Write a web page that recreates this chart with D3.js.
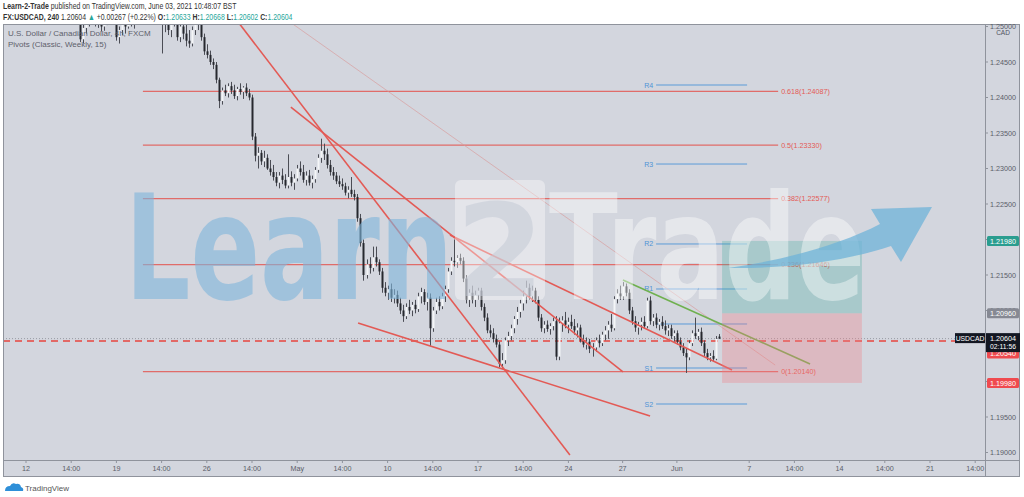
<!DOCTYPE html>
<html><head><meta charset="utf-8">
<script src="https://cdn.jsdelivr.net/npm/d3@7/dist/d3.min.js"></script>
<style>html,body{margin:0;padding:0;background:#fff;overflow:hidden}text{font-family:"Liberation Sans",Arial,sans-serif}</style>
</head><body>
<svg id="c" width="1024" height="497"></svg>
<script>
// ---------- DATA ----------
const startIndex = 18; // candle index of first entry (index 0 = Apr 12 00:00, 4h candles)
const opens = [
1.2510,1.2482,1.2498,1.2512,1.2520,1.2515,1.2508,1.2518,1.2500,1.2510,
1.2522,1.2530,1.2512,1.2485,1.2495,1.2508,1.2500,1.2518,1.2510,1.2515,
1.2528,1.2540,1.2550,1.2562,1.2555,1.2545,1.2535,1.2525,1.2508,1.2515,
1.2495,1.2510,1.2520,1.2485,1.2500,1.2490,1.2480,1.2476,1.2495,1.2508,
1.2520,1.2485,1.2465,1.2460,1.2450,1.2446,1.2425,1.2395,1.2410,1.2406,
1.2416,1.2410,1.2402,1.2412,1.2408,1.2414,1.2406,1.2400,1.2345,1.2318,
1.2322,1.2310,1.2315,1.2300,1.2295,1.2288,1.2280,1.2290,1.2284,1.2276,
1.2288,1.2280,1.2286,1.2300,1.2295,1.2284,1.2290,1.2280,1.2285,1.2298,
1.2315,1.2325,1.2320,1.2305,1.2295,1.2290,1.2282,1.2278,1.2275,1.2266,
1.2270,1.2264,1.2260,1.2230,1.2195,1.2150,1.2165,1.2160,1.2175,1.2168,
1.2155,1.2132,1.2125,1.2130,1.2118,1.2122,1.2110,1.2100,1.2092,1.2105,
1.2100,1.2108,1.2102,1.2120,1.2126,1.2112,1.2118,1.2075,1.2100,1.2112,
1.2106,1.2120,1.2130,1.2155,1.2170,1.2168,1.2174,1.2170,1.2145,1.2115,
1.2125,1.2115,1.2122,1.2128,1.2105,1.2090,1.2072,1.2068,1.2060,1.2052,
1.2025,1.2030,1.2058,1.2064,1.2075,1.2088,1.2098,1.2110,1.2120,1.2132,
1.2120,1.2128,1.2115,1.2090,1.2075,1.2080,1.2074,1.2078,1.2085,1.2035,
1.2082,1.2086,1.2080,1.2084,1.2078,1.2072,1.2076,1.2058,1.2052,1.2056,
1.2046,1.2048,1.2058,1.2054,1.2066,1.2072,1.2080,1.2075,1.2116,1.2124,
1.2120,1.2134,1.2125,1.2100,1.2085,1.2076,1.2080,1.2084,1.2078,1.2114,
1.2085,1.2090,1.2080,1.2084,1.2078,1.2072,1.2075,1.2064,1.2068,1.2056,
1.2048,1.2040,1.2034,1.2054,1.2068,1.2064,1.2070,1.2054,1.2040,1.2034,
1.2036,1.2032,1.20633];
const highs = [
1.2525,1.2505,1.2520,1.2530,1.2535,1.2530,1.2525,1.2522,1.2515,1.2528,
1.2535,1.2540,1.2520,1.2500,1.2515,1.2520,1.2525,1.2530,1.2522,1.2535,
1.2545,1.2560,1.2570,1.2575,1.2568,1.2560,1.2548,1.2530,1.2522,1.2525,
1.2515,1.2528,1.2525,1.2505,1.2512,1.2510,1.2495,1.2500,1.2515,1.2525,
1.2528,1.2490,1.2475,1.2466,1.2455,1.2450,1.2428,1.2414,1.2418,1.2420,
1.2422,1.2418,1.2415,1.2420,1.2416,1.2420,1.2412,1.2404,1.2350,1.2330,
1.2326,1.2325,1.2320,1.2312,1.2305,1.2295,1.2295,1.2300,1.2292,1.2320,
1.2296,1.2292,1.2305,1.2310,1.2305,1.2296,1.2298,1.2290,1.2302,1.2320,
1.2342,1.2335,1.2328,1.2312,1.2302,1.2295,1.2290,1.2286,1.2280,1.2275,
1.2288,1.2270,1.2264,1.2236,1.2200,1.2172,1.2175,1.2190,1.2190,1.2172,
1.2160,1.2140,1.2135,1.2138,1.2130,1.2128,1.2118,1.2108,1.2110,1.2115,
1.2112,1.2115,1.2125,1.2132,1.2130,1.2125,1.2124,1.2105,1.2118,1.2120,
1.2125,1.2135,1.2160,1.2175,1.2200,1.2178,1.2180,1.2175,1.2150,1.2130,
1.2135,1.2128,1.2132,1.2132,1.2110,1.2096,1.2080,1.2075,1.2066,1.2056,
1.2040,1.2062,1.2070,1.2080,1.2092,1.2105,1.2115,1.2128,1.2142,1.2138,
1.2135,1.2132,1.2120,1.2095,1.2085,1.2086,1.2082,1.2090,1.2092,1.2090,
1.2092,1.2098,1.2090,1.2094,1.2088,1.2082,1.2080,1.2066,1.2062,1.2060,
1.2054,1.2062,1.2066,1.2070,1.2078,1.2085,1.2095,1.2120,1.2130,1.2135,
1.2140,1.2138,1.2130,1.2105,1.2092,1.2084,1.2090,1.2092,1.2118,1.2120,
1.2095,1.2096,1.2088,1.2092,1.2086,1.2080,1.2080,1.2072,1.2072,1.2062,
1.2054,1.2046,1.2058,1.2072,1.2090,1.2074,1.2076,1.2058,1.2046,1.2040,
1.2044,1.2064,1.20668];
const lows = [
1.2478,1.2476,1.2490,1.2500,1.2505,1.2500,1.2498,1.2493,1.2494,1.2502,
1.2510,1.2505,1.2480,1.2476,1.2488,1.2490,1.2497,1.2500,1.2497,1.2505,
1.2515,1.2525,1.2538,1.2545,1.2535,1.2525,1.2515,1.2462,1.2492,1.2488,
1.2485,1.2500,1.2480,1.2478,1.2482,1.2472,1.2470,1.2472,1.2488,1.2495,
1.2480,1.2460,1.2455,1.2446,1.2440,1.2420,1.2385,1.2390,1.2402,1.2400,
1.2405,1.2398,1.2396,1.2404,1.2398,1.2402,1.2396,1.2340,1.2310,1.2300,
1.2305,1.2302,1.2298,1.2290,1.2283,1.2275,1.2272,1.2278,1.2272,1.2272,
1.2275,1.2270,1.2282,1.2290,1.2280,1.2276,1.2276,1.2272,1.2280,1.2294,
1.2308,1.2312,1.2300,1.2290,1.2284,1.2278,1.2274,1.2270,1.2262,1.2258,
1.2260,1.2255,1.2225,1.2190,1.2142,1.2145,1.2152,1.2155,1.2162,1.2150,
1.2125,1.2120,1.2115,1.2112,1.2110,1.2105,1.2095,1.2084,1.2088,1.2095,
1.2092,1.2096,1.2098,1.2110,1.2108,1.2100,1.2050,1.2070,1.2095,1.2100,
1.2102,1.2112,1.2125,1.2150,1.2162,1.2160,1.2165,1.2140,1.2110,1.2105,
1.2110,1.2105,1.2115,1.2100,1.2085,1.2068,1.2062,1.2055,1.2048,1.2020,
1.2018,1.2025,1.2050,1.2058,1.2068,1.2080,1.2090,1.2100,1.2110,1.2115,
1.2112,1.2110,1.2085,1.2070,1.2068,1.2070,1.2066,1.2072,1.2030,1.2030,
1.2070,1.2075,1.2068,1.2074,1.2066,1.2062,1.2055,1.2048,1.2045,1.2040,
1.2035,1.2042,1.2048,1.2050,1.2058,1.2060,1.2070,1.2072,1.2110,1.2115,
1.2115,1.2120,1.2095,1.2080,1.2070,1.2066,1.2072,1.2074,1.2075,1.2080,
1.2078,1.2075,1.2072,1.2074,1.2066,1.2064,1.2060,1.2056,1.2052,1.2044,
1.2036,1.2012,1.2030,1.2050,1.2060,1.2058,1.2050,1.2036,1.2030,1.2028,
1.2028,1.2030,1.20602];
const closes = [
1.2482,1.2498,1.2512,1.2520,1.2515,1.2508,1.2518,1.2500,1.2510,1.2522,
1.2530,1.2512,1.2485,1.2495,1.2508,1.2500,1.2518,1.2510,1.2515,1.2528,
1.2540,1.2550,1.2562,1.2555,1.2545,1.2535,1.2525,1.2508,1.2515,1.2495,
1.2510,1.2520,1.2485,1.2500,1.2490,1.2480,1.2476,1.2495,1.2508,1.2520,
1.2485,1.2465,1.2460,1.2450,1.2446,1.2425,1.2395,1.2410,1.2406,1.2416,
1.2410,1.2402,1.2412,1.2408,1.2414,1.2406,1.2400,1.2345,1.2318,1.2322,
1.2310,1.2315,1.2300,1.2295,1.2288,1.2280,1.2290,1.2284,1.2276,1.2288,
1.2280,1.2286,1.2300,1.2295,1.2284,1.2290,1.2280,1.2285,1.2298,1.2315,
1.2325,1.2320,1.2305,1.2295,1.2290,1.2282,1.2278,1.2275,1.2266,1.2270,
1.2264,1.2260,1.2230,1.2195,1.2150,1.2165,1.2160,1.2175,1.2168,1.2155,
1.2132,1.2125,1.2130,1.2118,1.2122,1.2110,1.2100,1.2092,1.2105,1.2100,
1.2108,1.2102,1.2120,1.2126,1.2112,1.2118,1.2075,1.2100,1.2112,1.2106,
1.2120,1.2130,1.2155,1.2170,1.2168,1.2174,1.2170,1.2145,1.2115,1.2125,
1.2115,1.2122,1.2128,1.2105,1.2090,1.2072,1.2068,1.2060,1.2052,1.2025,
1.2030,1.2058,1.2064,1.2075,1.2088,1.2098,1.2110,1.2120,1.2132,1.2120,
1.2128,1.2115,1.2090,1.2075,1.2080,1.2074,1.2078,1.2085,1.2035,1.2082,
1.2086,1.2080,1.2084,1.2078,1.2072,1.2076,1.2058,1.2052,1.2056,1.2046,
1.2048,1.2058,1.2054,1.2066,1.2072,1.2080,1.2075,1.2116,1.2124,1.2120,
1.2134,1.2125,1.2100,1.2085,1.2076,1.2080,1.2084,1.2078,1.2114,1.2085,
1.2090,1.2080,1.2084,1.2078,1.2072,1.2075,1.2064,1.2068,1.2056,1.2048,
1.2040,1.2034,1.2054,1.2068,1.2064,1.2070,1.2054,1.2040,1.2034,1.2036,
1.2032,1.2060,1.20604];

const timeTickIdx    = [0,15,30,45,60,75,90,105,120,135,150,165,180,198,216,240,255,270,285,300,315];
const timeTickLabels = ["12","14:00","19","14:00","26","14:00","May","14:00","10","14:00","17","14:00","24","27","Jun","7","14:00","14","14:00","21","14:00"];
const priceTicks = [1.25,1.245,1.24,1.235,1.23,1.225,1.22,1.215,1.21,1.205,1.20,1.195,1.19];

const fibRatios = ["0.618","0.5","0.382","0.236","0"];
const fibPrices = [1.24087,1.23330,1.22577,1.21646,1.20140];
const fibRange = [38.8, 249.6];

const pivotNames  = ["R4","R3","R2","R1","P","S1","S2"];
const pivotPrices = [1.24176,1.23063,1.21937,1.21303,1.20810,1.20190,1.19683];
const pivotRange = [209.1, 239.3];

// trend lines [ [idx, price], [idx, price] ]
const redTrendLines = [
  [[70.4,1.25063],[180.5,1.18965]],
  [[87.9,1.23866],[198.1,1.20134]],
  [[140.7,1.22063],[234.3,1.20162]],
  [[110.2,1.20824],[207.1,1.19514]]
];
const faintLine = [[87.6,1.25063],[248.6,1.20232]];
const greenLine = [[198.1,1.21430],[260.2,1.20246]];
const dashedLevel = 1.20570;
const lastPrice = 1.20604;
const position = {from:231.0, to:277.4, target:1.21980, entry:1.20960, stop:1.19980};

// ---------- CHART ----------
const svg = d3.select("#c");
const W = 1024, H = 497;
const P = {l:3, r:985, t:24, b:460, ar:1020, ab:477};
const x = d3.scaleLinear().domain([0,300]).range([26,930]);
const y = d3.scaleLinear().domain([1.225,1.245]).range([204,62]);

svg.append("rect").attr("width",W).attr("height",H).attr("fill","#ffffff");
svg.append("rect").attr("x",P.l).attr("y",P.t).attr("width",P.ar-P.l).attr("height",P.ab-P.t).attr("fill","#d3d6de");

const defs = svg.append("defs");
defs.append("clipPath").attr("id","pane").append("rect").attr("x",P.l).attr("y",P.t).attr("width",P.r-P.l).attr("height",P.b-P.t);
defs.append("clipPath").attr("id","taxis").append("rect").attr("x",P.l).attr("y",P.b).attr("width",P.r-P.l).attr("height",P.ab-P.b);
defs.append("clipPath").attr("id","paxis").append("rect").attr("x",P.r).attr("y",P.t).attr("width",P.ar-P.r).attr("height",P.b-P.t);

const g = svg.append("g").attr("clip-path","url(#pane)");
const red = "#e35a55";

// fib lines
fibPrices.forEach((p,k)=>{
  g.append("line").attr("x1",x(fibRange[0])).attr("x2",x(fibRange[1])).attr("y1",y(p)).attr("y2",y(p))
   .attr("stroke",red).attr("stroke-width",1.3).attr("opacity",0.85);
  g.append("text").attr("x",x(fibRange[1])+3).attr("y",y(p)+2.6).attr("font-size",7.2).attr("fill",red)
   .text(fibRatios[k]+"("+p.toFixed(5)+")");
});
// pivots
pivotPrices.forEach((p,k)=>{
  g.append("line").attr("x1",x(pivotRange[0])).attr("x2",x(pivotRange[1])).attr("y1",y(p)).attr("y2",y(p))
   .attr("stroke","#5b9bd8").attr("stroke-width",1);
  if(pivotNames[k]!=="P")
  g.append("text").attr("x",x(pivotRange[0])-3).attr("y",y(p)+2.5).attr("font-size",7).attr("fill","#4f93d6")
   .attr("text-anchor","end").text(pivotNames[k]);
});

// faint line
g.append("line").attr("x1",x(faintLine[0][0])).attr("y1",y(faintLine[0][1])).attr("x2",x(faintLine[1][0])).attr("y2",y(faintLine[1][1]))
 .attr("stroke","#d99a9a").attr("stroke-width",0.8).attr("opacity",0.8);

// last price dotted
g.append("line").attr("x1",P.l).attr("x2",P.r).attr("y1",y(lastPrice)).attr("y2",y(lastPrice))
 .attr("stroke","#8a8d96").attr("stroke-width",0.8).attr("stroke-dasharray","1,2");
// red dashed horizontal
g.append("line").attr("x1",P.l).attr("x2",P.r).attr("y1",y(dashedLevel)).attr("y2",y(dashedLevel))
 .attr("stroke","#e8453f").attr("stroke-width",1.6).attr("stroke-dasharray","7,5");

// candles
const cg = g.append("g");
opens.forEach((o,k)=>{
  const i = startIndex + k, c = closes[k], hi = highs[k], lo = lows[k];
  const cx = Math.round(x(i));
  const up = c >= o;
  cg.append("line").attr("x1",cx+0.5).attr("x2",cx+0.5).attr("y1",y(hi)).attr("y2",y(lo))
    .attr("stroke","#4b4d55").attr("stroke-width",1);
  const top = y(Math.max(o,c)), bot = y(Math.min(o,c));
  cg.append("rect").attr("x",cx-0.5).attr("width",2).attr("y",top).attr("height",Math.max(1,bot-top))
    .attr("fill", up ? "#f4f5f7" : "#26282e");
});

// red trend lines
redTrendLines.forEach(l=>{
  g.append("line").attr("x1",x(l[0][0])).attr("y1",y(l[0][1])).attr("x2",x(l[1][0])).attr("y2",y(l[1][1]))
   .attr("stroke",red).attr("stroke-width",1.6);
});
// green line
g.append("line").attr("x1",x(greenLine[0][0])).attr("y1",y(greenLine[0][1])).attr("x2",x(greenLine[1][0])).attr("y2",y(greenLine[1][1]))
 .attr("stroke","#6fb04f").attr("stroke-width",1.6);

// position tool
g.append("rect").attr("x",x(position.from)).attr("width",x(position.to)-x(position.from))
 .attr("y",y(position.target)).attr("height",y(position.entry)-y(position.target))
 .attr("fill","#3aa89c").attr("opacity",0.28);
g.append("rect").attr("x",x(position.from)).attr("width",x(position.to)-x(position.from))
 .attr("y",y(position.entry)).attr("height",y(position.stop)-y(position.entry))
 .attr("fill","#f07f85").attr("opacity",0.33);

// watermark
const wm = g.append("g");
wm.append("text").attr("x",125).attr("y",299).attr("font-size",146).attr("font-weight","bold")
  .style("font-family","'DejaVu Sans',sans-serif").attr("textLength",328).attr("lengthAdjust","spacingAndGlyphs")
  .attr("fill","#7fb6dc").attr("opacity",0.6).text("Learn");
wm.append("rect").attr("x",455).attr("y",180).attr("width",90).attr("height",120).attr("rx",6)
  .attr("fill","#ffffff").attr("opacity",0.38);
wm.append("text").attr("x",500).attr("y",296).attr("font-size",128).attr("font-weight","bold").attr("text-anchor","middle")
  .style("font-family","'DejaVu Sans',sans-serif").attr("fill","#c4cad6").attr("opacity",0.55).text("2");
wm.append("text").attr("x",549).attr("y",299).attr("font-size",146).attr("font-weight","bold")
  .style("font-family","'DejaVu Sans',sans-serif").attr("textLength",316).attr("lengthAdjust","spacingAndGlyphs")
  .attr("fill","#ffffff").attr("opacity",0.42).text("Trade");
wm.append("path").attr("d","M728,268 C785,260 842,244 880,224 L871,209 L932,207 L901,262 L891,246 C850,260 790,269 728,268 Z")
  .attr("fill","#6fb3d8").attr("opacity",0.75);

// legend
svg.append("text").attr("x",8).attr("y",36).attr("font-size",8).attr("fill","#5d606b").text("U.S. Dollar / Canadian Dollar, 4h, FXCM");
svg.append("text").attr("x",8).attr("y",47).attr("font-size",8).attr("fill","#5d606b").text("Pivots (Classic, Weekly, 15)");

// axes frame
svg.append("line").attr("x1",P.r+0.5).attr("x2",P.r+0.5).attr("y1",P.t).attr("y2",P.ab).attr("stroke","#8f939c");
svg.append("line").attr("x1",P.l).attr("x2",P.ar).attr("y1",P.b+0.5).attr("y2",P.b+0.5).attr("stroke","#8f939c");
svg.append("rect").attr("x",P.l+0.5).attr("y",P.t+0.5).attr("width",P.ar-P.l-1).attr("height",P.ab-P.t-1)
  .attr("fill","none").attr("stroke","#8f939c");

// time axis
const ta = svg.append("g").attr("clip-path","url(#taxis)");
timeTickIdx.forEach((i,k)=>{
  ta.append("line").attr("x1",x(i)).attr("x2",x(i)).attr("y1",P.b).attr("y2",P.b+3).attr("stroke","#8f939c");
  ta.append("text").attr("x",x(i)).attr("y",P.b+11).attr("font-size",7.2).attr("fill","#5a5d68").attr("text-anchor","middle").text(timeTickLabels[k]);
});

// price axis
const pa = svg.append("g").attr("clip-path","url(#paxis)");
priceTicks.forEach(p=>{
  pa.append("line").attr("x1",P.r).attr("x2",P.r+3).attr("y1",y(p)).attr("y2",y(p)).attr("stroke","#8f939c");
  pa.append("text").attr("x",P.r+5).attr("y",y(p)+2.5).attr("font-size",7.2).attr("fill","#5a5d68").text(p.toFixed(5));
});
pa.append("text").attr("x",P.r+18).attr("y",y(1.25)+8).attr("font-size",6.5).attr("fill","#50535e").attr("text-anchor","middle").text("CAD");

function tag(price, txt, bg, cy){
  const yy = cy!==undefined ? cy : y(price);
  svg.append("rect").attr("x",P.r+2).attr("y",yy-5).attr("width",32).attr("height",10).attr("rx",1.5).attr("fill",bg);
  svg.append("text").attr("x",P.r+18).attr("y",yy+2.6).attr("font-size",7.2).attr("fill","#fff").attr("text-anchor","middle").text(txt);
}
tag(position.target, position.target.toFixed(5), "#2a9d8f");
tag(position.entry, position.entry.toFixed(5), "#868993");
tag(position.stop, position.stop.toFixed(5), "#ef4a4f");
tag(1.20540, "1.20540", "#ef4a4f", y(lastPrice)+15);
// last price tag
svg.append("rect").attr("x",P.r+1).attr("y",y(lastPrice)-5.5).attr("width",34).attr("height",19).attr("fill","#131722");
svg.append("text").attr("x",P.r+18).attr("y",y(lastPrice)+2.5).attr("font-size",7.2).attr("fill","#fff").attr("text-anchor","middle").text(lastPrice.toFixed(5));
svg.append("text").attr("x",P.r+18).attr("y",y(lastPrice)+10.5).attr("font-size",6.8).attr("fill","#fff").attr("text-anchor","middle").text("02:11:56");
svg.append("rect").attr("x",955).attr("y",y(lastPrice)-5.5).attr("width",30).attr("height",10).attr("fill","#131722");
svg.append("text").attr("x",970).attr("y",y(lastPrice)+2).attr("font-size",6.8).attr("fill","#fff").attr("text-anchor","middle").text("USDCAD");

// header
function fitted(xpos, ybase, targetW, build){
  const t = svg.append("text").attr("font-size",9).attr("y",0).attr("x",0);
  build(t);
  const w = t.node().getComputedTextLength();
  t.attr("transform",`translate(${xpos},${ybase}) scale(${targetW/w},1)`);
}
fitted(3, 9, 234, t=>{
  t.append("tspan").attr("font-weight","bold").attr("fill","#333").text("Learn-2-Trade");
  t.append("tspan").attr("fill","#333").text(" published on TradingView.com, June 03, 2021 10:48:07 BST");
});
fitted(3, 19.5, 290, t=>{
  t.append("tspan").attr("font-weight","bold").attr("fill","#333").text("FX:USDCAD, 240");
  t.append("tspan").attr("fill","#333").text("  1.20604 ");
  t.append("tspan").attr("fill","#26a69a").text("▲");
  t.append("tspan").attr("fill","#333").text(" +0.00267 (+0.22%) ");
  ["O:","1.20633"," H:","1.20668"," L:","1.20602"," C:","1.20604"].forEach((s,k)=>{
    t.append("tspan").attr("fill", k%2 ? "#26a69a" : "#333").attr("font-weight", k%2 ? "normal":"bold").text(s);
  });
});

// footer logo
const lg = svg.append("g");
lg.append("path").attr("d","M5,491 q0,-5 5,-5 q2,-4 6,-2 q4,-1 5,3 q3,1 2,4 z").attr("fill","#2e8fd8");
lg.append("text").attr("x",25).attr("y",491).attr("font-size",8).attr("fill","#555").text("TradingView");
</script>
</body></html>
